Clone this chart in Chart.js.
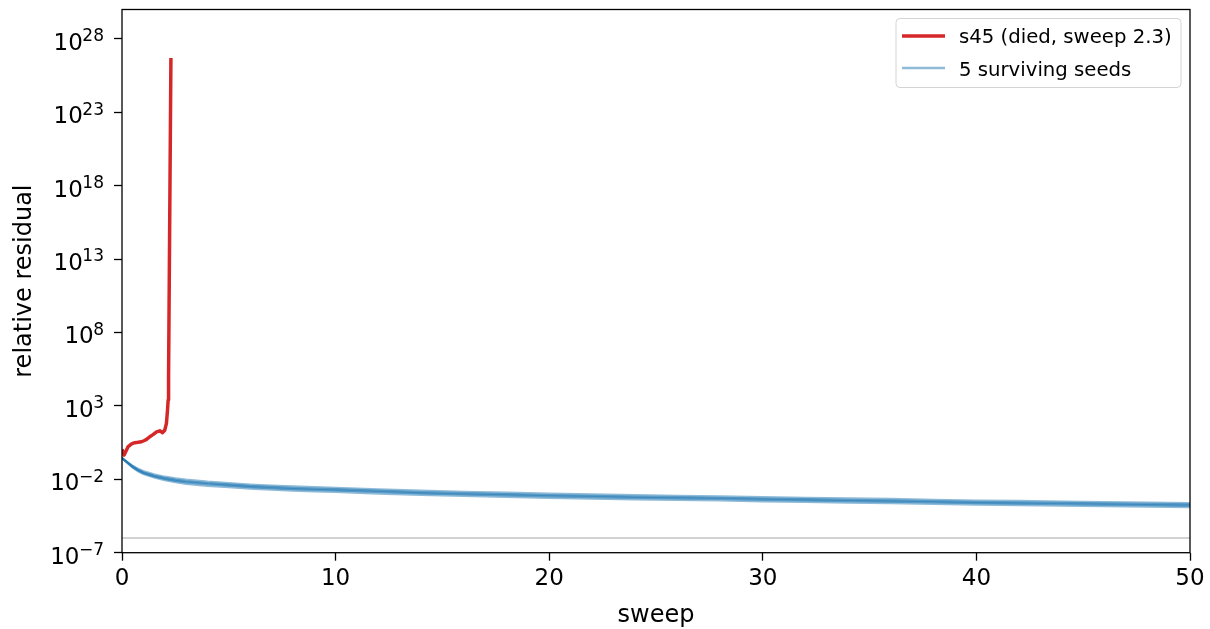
<!DOCTYPE html>
<html>
<head>
<meta charset="utf-8">
<script src="https://cdn.jsdelivr.net/npm/chart.js@4.4.0/dist/chart.umd.min.js"></script>
<style>
  html, body { margin: 0; padding: 0; background: #fff; }
  #wrap { width: 1210px; height: 629px; position: relative; }
</style>
</head>
<body>
<div id="wrap"><canvas id="c" width="1210" height="629"></canvas></div>
<script>
// ---- data ----
const sweepX = [0, 0.25, 0.5, 0.75, 1, 1.5, 2, 2.5, 3, 4, 5, 6, 7, 8, 9, 10, 12, 14, 16, 18, 20, 22, 24, 26, 28, 30, 32, 34, 36, 38, 40, 42, 44, 46, 48, 50];
const seedA = [2.8e-1, 1.3e-1, 6.2e-2, 3.5e-2, 2.3e-2, 1.32e-2, 8.6e-3, 6.4e-3, 4.9e-3, 3.6e-3, 2.9e-3, 2.3e-3, 1.95e-3, 1.7e-3, 1.5e-3, 1.38e-3, 1.07e-3, 8.6e-4, 7.4e-4, 6.4e-4, 5.45e-4, 4.85e-4, 4.35e-4, 3.95e-4, 3.6e-4, 3.15e-4, 2.88e-4, 2.58e-4, 2.38e-4, 2.13e-4, 1.87e-4, 1.73e-4, 1.58e-4, 1.46e-4, 1.37e-4, 1.25e-4];
const seedB = [2.8e-1, 1.35e-1, 6.8e-2, 4.0e-2, 2.6e-2, 1.55e-2, 1.04e-2, 7.8e-3, 6.2e-3, 4.6e-3, 3.65e-3, 2.95e-3, 2.45e-3, 2.15e-3, 1.9e-3, 1.72e-3, 1.36e-3, 1.1e-3, 9.2e-4, 8.1e-4, 6.9e-4, 6.1e-4, 5.5e-4, 4.95e-4, 4.55e-4, 4.0e-4, 3.6e-4, 3.25e-4, 3.0e-4, 2.65e-4, 2.35e-4, 2.17e-4, 2.0e-4, 1.83e-4, 1.72e-4, 1.57e-4];
const seedC = [2.8e-1, 1.4e-1, 7.1e-2, 4.2e-2, 2.8e-2, 1.66e-2, 1.12e-2, 8.5e-3, 6.8e-3, 5.0e-3, 4.0e-3, 3.2e-3, 2.7e-3, 2.35e-3, 2.1e-3, 1.9e-3, 1.5e-3, 1.2e-3, 1.02e-3, 8.9e-4, 7.6e-4, 6.8e-4, 6.0e-4, 5.5e-4, 5.0e-4, 4.4e-4, 4.0e-4, 3.6e-4, 3.3e-4, 2.95e-4, 2.6e-4, 2.4e-4, 2.2e-4, 2.04e-4, 1.9e-4, 1.74e-4];
const seedD = [2.8e-1, 1.45e-1, 7.5e-2, 4.5e-2, 3.05e-2, 1.82e-2, 1.24e-2, 9.5e-3, 7.6e-3, 5.6e-3, 4.5e-3, 3.55e-3, 3.05e-3, 2.6e-3, 2.35e-3, 2.12e-3, 1.68e-3, 1.33e-3, 1.15e-3, 9.9e-4, 8.5e-4, 7.6e-4, 6.7e-4, 6.2e-4, 5.55e-4, 4.9e-4, 4.5e-4, 4.0e-4, 3.7e-4, 3.3e-4, 2.9e-4, 2.7e-4, 2.45e-4, 2.3e-4, 2.12e-4, 1.95e-4];
const seedE = [2.8e-1, 1.5e-1, 8.3e-2, 5.2e-2, 3.6e-2, 2.2e-2, 1.5e-2, 1.16e-2, 9.4e-3, 6.9e-3, 5.5e-3, 4.4e-3, 3.75e-3, 3.25e-3, 2.9e-3, 2.6e-3, 2.08e-3, 1.67e-3, 1.42e-3, 1.23e-3, 1.05e-3, 9.4e-4, 8.3e-4, 7.6e-4, 6.9e-4, 6.1e-4, 5.5e-4, 5.0e-4, 4.6e-4, 4.05e-4, 3.6e-4, 3.35e-4, 3.0e-4, 2.8e-4, 2.62e-4, 2.4e-4];
const redX = [0, 0.1, 0.29, 0.45, 0.6, 0.75, 0.91, 1.05, 1.15, 1.3, 1.45, 1.62, 1.77, 1.9, 2.0, 2.08, 2.13, 2.16, 2.18, 2.29];
const redY = [1.1, 0.45, 1.7, 2.6, 3.1, 3.3, 3.6, 4.4, 5.2, 7.9, 11, 17, 20, 15, 22, 65, 500, 2500, 1e5, 5e26];
const floorLevel = 1e-6;
const xTickValues = [0, 10, 20, 30, 40, 50];
const yTickValues = [1e-7, 1e-2, 1e3, 1e8, 1e13, 1e18, 1e23, 1e28];
const yTickBase = '10';
const yTickExponents = ['\u22127', '\u22122', '3', '8', '13', '18', '23', '28'];
const legendLabels = ['s45 (died, sweep 2.3)', '5 surviving seeds'];

// ---- styles ----
const FONT = '"DejaVu Sans", "Liberation Sans", sans-serif';
const RED = '#d62728';
const BLUE = 'rgba(31,119,180,0.5)';

const pts = (xs, ys) => xs.map((x, i) => ({ x: x, y: ys[i] }));
const seeds = [seedA, seedB, seedC, seedD, seedE];

const datasets = [
  { label: legendLabels[0], data: pts(redX, redY), borderColor: RED, borderWidth: 3.5, pointRadius: 0, tension: 0, fill: false, order: 0, borderJoinStyle: 'round' }
];
seeds.forEach((s, k) => {
  datasets.push({ label: k === 0 ? legendLabels[1] : '', data: pts(sweepX, s), borderColor: BLUE, borderWidth: 2.2, pointRadius: 0, tension: 0, fill: false, order: 1 });
});
datasets.push({ label: '', data: [{ x: xTickValues[0], y: floorLevel }, { x: xTickValues[xTickValues.length - 1], y: floorLevel }], borderColor: 'rgba(128,128,128,0.7)', borderWidth: 1, pointRadius: 0, fill: false, order: 2 });

const framePlugin = {
  id: 'mplFrame',
  afterDatasetsDraw(chart) {
    const { ctx, chartArea: a } = chart;
    ctx.save();
    ctx.strokeStyle = '#000';
    ctx.lineWidth = 1.3;
    ctx.strokeRect(a.left, a.top, a.right - a.left, a.bottom - a.top);
    ctx.restore();
  },
  afterDraw(chart) {
    const { ctx, chartArea: a } = chart;
    ctx.save();
    // y tick labels with superscript exponents, placed through the y scale
    const ys = chart.scales.y;
    const xR = a.left - 8 - 10;
    ctx.fillStyle = '#000';
    ctx.textBaseline = 'alphabetic';
    yTickValues.forEach((v, i) => {
      const py = ys.getPixelForValue(v);
      ctx.font = '17px ' + FONT;
      const ew = ctx.measureText(yTickExponents[i]).width;
      ctx.textAlign = 'left';
      ctx.fillText(yTickExponents[i], xR - ew, py + 2.4);
      ctx.font = '23px ' + FONT;
      ctx.textAlign = 'right';
      ctx.fillText(yTickBase, xR - ew + 0.5, py + 11);
    });
    // legend
    const bw = 285, bh = 69;
    const bx = a.right - 9 - bw, by = a.top + 9;
    ctx.beginPath();
    if (ctx.roundRect) ctx.roundRect(bx, by, bw, bh, 4); else ctx.rect(bx, by, bw, bh);
    ctx.fillStyle = 'rgba(255,255,255,0.8)';
    ctx.fill();
    ctx.strokeStyle = '#d4d4d4';
    ctx.lineWidth = 1;
    ctx.stroke();
    const items = [
      { text: legendLabels[0], color: RED, w: 3.5, ly: by + 17.5, ty: by + 24.5 },
      { text: legendLabels[1], color: BLUE, w: 2.3, ly: by + 49.5, ty: by + 57.5 }
    ];
    ctx.font = '19.7px ' + FONT;
    ctx.textBaseline = 'alphabetic';
    ctx.textAlign = 'left';
    items.forEach(it => {
      ctx.beginPath();
      ctx.strokeStyle = it.color;
      ctx.lineWidth = it.w;
      ctx.moveTo(bx + 6, it.ly);
      ctx.lineTo(bx + 49, it.ly);
      ctx.stroke();
      ctx.fillStyle = '#000';
      ctx.fillText(it.text, bx + 63, it.ty);
    });
    ctx.restore();
  }
};

new Chart(document.getElementById('c'), {
  type: 'line',
  data: { datasets: datasets },
  options: {
    responsive: false,
    animation: false,
    devicePixelRatio: 1,
    layout: { padding: { left: 0, right: 20, top: 9.5, bottom: 0 } },
    plugins: { legend: { display: false }, tooltip: { enabled: false } },
    scales: {
      x: {
        type: 'linear', min: 0, max: 50,
        afterBuildTicks: s => { s.ticks = xTickValues.map(v => ({ value: v })); },
        afterFit: s => { s.height = 76.3; s.paddingLeft = 0; s.paddingRight = 0; s.paddingTop = 0; s.paddingBottom = 0; },
        ticks: { color: '#000', font: { family: FONT, size: 23 }, padding: 5, maxRotation: 0, autoSkip: false },
        grid: { display: true, drawOnChartArea: false, drawTicks: true, tickLength: 8, tickWidth: 1.3, tickColor: '#000' },
        border: { display: false },
        title: { display: true, text: 'sweep', color: '#000', font: { family: FONT, size: 24 }, padding: { top: 0, bottom: -1 } }
      },
      y: {
        type: 'logarithmic', min: 1e-7, max: 1e30,
        afterBuildTicks: s => { s.ticks = yTickValues.map(v => ({ value: v })); },
        afterFit: s => { s.width = 122; s.paddingTop = 0; s.paddingBottom = 0; s.paddingLeft = 0; s.paddingRight = 0; },
        ticks: { color: '#000', font: { family: FONT, size: 23 }, padding: 9, autoSkip: false,
                 callback: () => '' },
        grid: { display: true, drawOnChartArea: false, drawTicks: true, tickLength: 8, tickWidth: 1.3, tickColor: '#000' },
        border: { display: false },
        title: { display: true, text: 'relative residual', color: '#000', font: { family: FONT, size: 24 }, padding: { top: 10, bottom: 0 } }
      }
    }
  },
  plugins: [framePlugin]
});
</script>
</body>
</html>
